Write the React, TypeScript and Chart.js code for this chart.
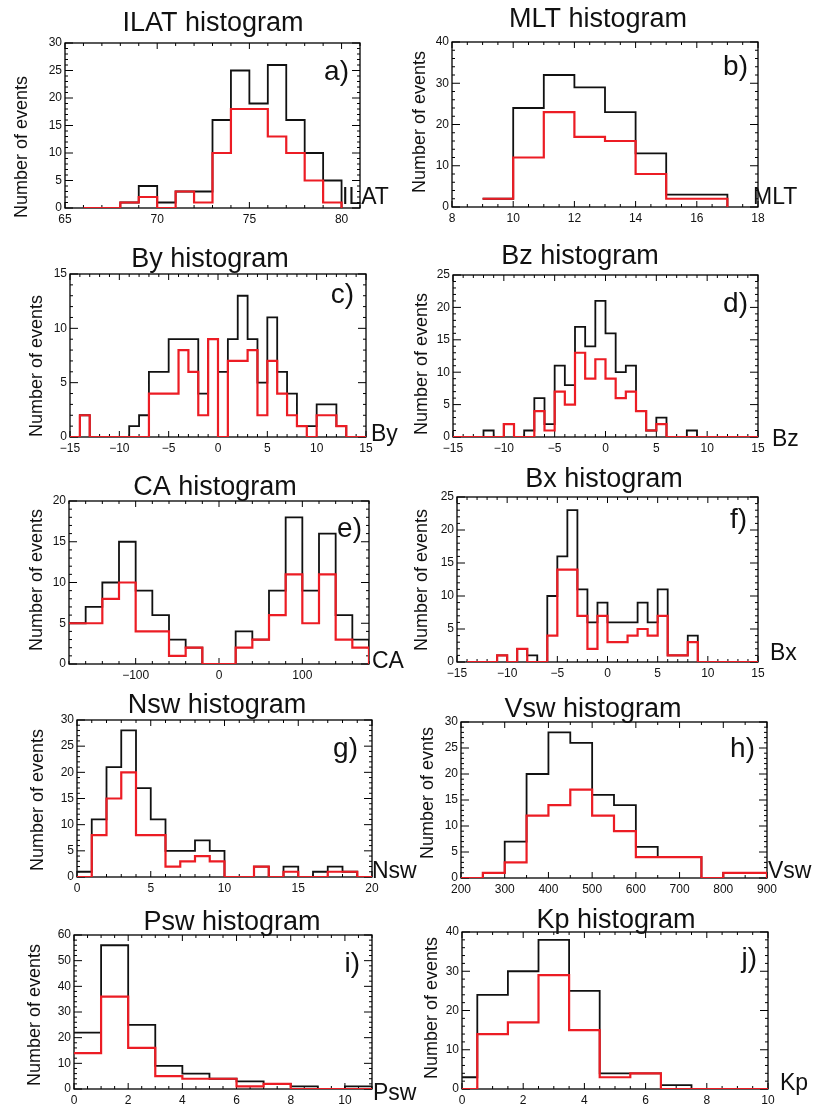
import React, { useEffect, useRef } from "react";
import { Chart, registerables } from "chart.js";

Chart.register(...registerables);

const FONT = "'Liberation Sans', Arial, Helvetica, sans-serif";
const BLACK = "#111111";
const RED = "#ec1c24";

// ---------------- data (bin edges, counts) ----------------
const ilatEdges = [66, 67, 68, 69, 70, 71, 72, 73, 74, 75, 76, 77, 78, 79, 80];
const ilatAll = [0, 0, 1, 4, 1, 3, 3, 16, 25, 19, 26, 16, 10, 5];
const ilatSel = [0, 0, 1, 2, 0, 3, 1, 10, 18, 18, 13, 10, 5, 1];

const mltEdges = [9, 10, 11, 12, 13, 14, 15, 16, 17];
const mltAll = [2, 24, 32, 29, 23, 13, 3, 3];
const mltSel = [2, 12, 23, 17, 16, 8, 2, 2];

const byEdges = [-15, -14, -13, -12, -11, -10, -9, -8, -7, -6, -5, -4, -3, -2, -1, 0, 1, 2, 3, 4, 5, 6, 7, 8, 9, 10, 11, 12, 13, 14, 15];
const byAll = [0, 2, 0, 0, 0, 0, 1, 2, 6, 6, 9, 9, 9, 4, 9, 6, 9, 13, 9, 5, 11, 6, 4, 1, 1, 3, 3, 1, 0, 0];
const bySel = [0, 2, 0, 0, 0, 0, 0, 0, 4, 4, 4, 8, 6, 2, 9, 0, 7, 7, 8, 2, 7, 4, 2, 1, 0, 2, 2, 1, 0, 0];

const bzEdges = [-15, -14, -13, -12, -11, -10, -9, -8, -7, -6, -5, -4, -3, -2, -1, 0, 1, 2, 3, 4, 5, 6, 7, 8, 9, 10, 11, 12, 13, 14, 15];
const bzAll = [0, 0, 0, 1, 0, 2, 0, 1, 6, 2, 11, 8, 17, 14, 21, 16, 10, 11, 4, 1, 3, 0, 0, 1, 0, 0, 0, 0, 0, 0];
const bzSel = [0, 0, 0, 0, 0, 2, 0, 0, 4, 1, 7, 5, 13, 9, 12, 9, 6, 7, 4, 1, 2, 0, 0, 0, 0, 0, 0, 0, 0, 0];

const caEdges = [-180, -160, -140, -120, -100, -80, -60, -40, -20, 0, 20, 40, 60, 80, 100, 120, 140, 160, 180];
const caAll = [5, 7, 10, 15, 9, 6, 3, 2, 0, 0, 4, 3, 9, 18, 9, 16, 6, 3];
const caSel = [5, 5, 8, 10, 4, 4, 1, 2, 0, 0, 2, 3, 6, 11, 5, 11, 3, 2];

const bxEdges = [-14, -13, -12, -11, -10, -9, -8, -7, -6, -5, -4, -3, -2, -1, 0, 1, 2, 3, 4, 5, 6, 7, 8, 9, 10, 11, 12, 13, 14, 15];
const bxAll = [0, 0, 0, 1, 0, 2, 1, 0, 10, 16, 23, 11, 6, 9, 6, 6, 6, 9, 6, 11, 1, 1, 4, 0, 0, 0, 0, 0, 0];
const bxSel = [0, 0, 0, 1, 0, 2, 0, 0, 4, 14, 14, 7, 2, 7, 3, 3, 4, 5, 4, 7, 1, 1, 3, 0, 0, 0, 0, 0, 0];

const nswEdges = [0, 1, 2, 3, 4, 5, 6, 7, 8, 9, 10, 11, 12, 13, 14, 15, 16, 17, 18, 19, 20];
const nswAll = [1, 11, 21, 28, 17, 11, 5, 5, 7, 5, 0, 0, 2, 0, 2, 0, 1, 2, 1, 0];
const nswSel = [0, 8, 15, 20, 8, 8, 2, 3, 4, 3, 0, 0, 2, 0, 1, 0, 0, 1, 1, 0];

const vswEdges = [200, 250, 300, 350, 400, 450, 500, 550, 600, 650, 700, 750, 800, 850, 900];
const vswAll = [0, 1, 7, 20, 28, 26, 16, 14, 6, 4, 4, 0, 1, 1];
const vswSel = [0, 1, 3, 12, 14, 17, 12, 9, 4, 4, 4, 0, 1, 1];

const pswEdges = [0, 1, 2, 3, 4, 5, 6, 7, 8, 9, 10, 11];
const pswAll = [22, 56, 25, 9, 6, 4, 3, 2, 1, 0, 1];
const pswSel = [14, 36, 16, 5, 4, 4, 1, 2, 0, 0, 0];

const kpEdges = [-0.5, 0.5, 1.5, 2.5, 3.5, 4.5, 5.5, 6.5, 7.5, 8.5, 9.5, 10.5];
const kpAll = [3, 24, 30, 38, 25, 4, 4, 1, 0, 0, 0];
const kpSel = [0, 14, 17, 29, 15, 3, 4, 0, 0, 0, 0];

// ---------------- layout ----------------
type Panel = {
  edges: number[];
  all: number[];
  sel: number[];
  xMin: number;
  xMax: number;
  xStep: number;
  xMinor: number;
  yMax: number;
  yStep: number;
  yMinor: number;
  title: string;
  letter: string;
  unit: string;
  yTitle: string;
  box: [number, number, number, number]; // canvas left, top, width, height (page px)
  frame: [number, number, number, number]; // plot L, T, R, B (page px)
  titleAt: [number, number]; // center x, baseline y
  letterAt: [number, number]; // right x, baseline y
  unitAt: [number, number]; // left x, baseline y
  yTitleAt: [number, number]; // baseline x, center y
};

const EV = "Number of events";
const COL1_W = 440;

const panels: Panel[] = [
  {
    edges: ilatEdges, all: ilatAll, sel: ilatSel,
    xMin: 65, xMax: 81, xStep: 5, xMinor: 5, yMax: 30, yStep: 5, yMinor: 5,
    title: "ILAT histogram", letter: "a)", unit: "ILAT", yTitle: EV,
    box: [0, 0, COL1_W, 232], frame: [65, 43, 360, 208],
    titleAt: [213, 31], letterAt: [349, 80], unitAt: [342, 204], yTitleAt: [27, 147],
  },
  {
    edges: mltEdges, all: mltAll, sel: mltSel,
    xMin: 8, xMax: 18, xStep: 2, xMinor: 4, yMax: 40, yStep: 10, yMinor: 5,
    title: "MLT histogram", letter: "b)", unit: "MLT", yTitle: EV,
    box: [407, 0, 407, 232], frame: [452, 42, 758, 207],
    titleAt: [598, 27], letterAt: [748, 75], unitAt: [753, 204], yTitleAt: [425, 122],
  },
  {
    edges: byEdges, all: byAll, sel: bySel,
    xMin: -15, xMax: 15, xStep: 5, xMinor: 5, yMax: 15, yStep: 5, yMinor: 5,
    title: "By histogram", letter: "c)", unit: "By", yTitle: EV,
    box: [0, 232, COL1_W, 226], frame: [70, 274, 366, 437],
    titleAt: [210, 267], letterAt: [354, 303], unitAt: [371, 441], yTitleAt: [42, 366],
  },
  {
    edges: bzEdges, all: bzAll, sel: bzSel,
    xMin: -15, xMax: 15, xStep: 5, xMinor: 5, yMax: 25, yStep: 5, yMinor: 5,
    title: "Bz histogram", letter: "d)", unit: "Bz", yTitle: EV,
    box: [407, 232, 407, 226], frame: [453, 275, 758, 437],
    titleAt: [580, 264], letterAt: [748, 312], unitAt: [772, 446], yTitleAt: [427, 364],
  },
  {
    edges: caEdges, all: caAll, sel: caSel,
    xMin: -180, xMax: 180, xStep: 100, xMinor: 5, yMax: 20, yStep: 5, yMinor: 5,
    title: "CA histogram", letter: "e)", unit: "CA", yTitle: EV,
    box: [0, 458, COL1_W, 230], frame: [69, 501, 369, 664],
    titleAt: [215, 495], letterAt: [362, 537], unitAt: [372, 668], yTitleAt: [42, 580],
  },
  {
    edges: bxEdges, all: bxAll, sel: bxSel,
    xMin: -15, xMax: 15, xStep: 5, xMinor: 5, yMax: 25, yStep: 5, yMinor: 5,
    title: "Bx histogram", letter: "f)", unit: "Bx", yTitle: EV,
    box: [407, 458, 407, 230], frame: [457, 497, 758, 662],
    titleAt: [604, 487], letterAt: [747, 528], unitAt: [770, 660], yTitleAt: [427, 580],
  },
  {
    edges: nswEdges, all: nswAll, sel: nswSel,
    xMin: 0, xMax: 20, xStep: 5, xMinor: 5, yMax: 30, yStep: 5, yMinor: 5,
    title: "Nsw histogram", letter: "g)", unit: "Nsw", yTitle: EV,
    box: [0, 688, COL1_W, 220], frame: [77, 720, 372, 877],
    titleAt: [217, 713], letterAt: [358, 757], unitAt: [372, 878], yTitleAt: [43, 800],
  },
  {
    edges: vswEdges, all: vswAll, sel: vswSel,
    xMin: 200, xMax: 900, xStep: 100, xMinor: 2, yMax: 30, yStep: 5, yMinor: 5,
    title: "Vsw histogram", letter: "h)", unit: "Vsw", yTitle: "Number of evnts",
    box: [407, 688, 407, 220], frame: [461, 722, 767, 878],
    titleAt: [593, 717], letterAt: [755, 757], unitAt: [768, 878], yTitleAt: [433, 793],
  },
  {
    edges: pswEdges, all: pswAll, sel: pswSel,
    xMin: 0, xMax: 11, xStep: 2, xMinor: 4, yMax: 60, yStep: 10, yMinor: 5,
    title: "Psw histogram", letter: "i)", unit: "Psw", yTitle: EV,
    box: [0, 908, COL1_W, 205], frame: [74, 935, 372, 1089],
    titleAt: [232, 930], letterAt: [360, 972], unitAt: [373, 1100], yTitleAt: [40, 1015],
  },
  {
    edges: kpEdges, all: kpAll, sel: kpSel,
    xMin: 0, xMax: 10, xStep: 2, xMinor: 4, yMax: 40, yStep: 10, yMinor: 5,
    title: "Kp histogram", letter: "j)", unit: "Kp", yTitle: EV,
    box: [407, 908, 407, 205], frame: [462, 932, 768, 1089],
    titleAt: [616, 928], letterAt: [757, 967], unitAt: [780, 1090], yTitleAt: [437, 1008],
  },
];

const Y_AXIS_W = 30;
const X_AXIS_H = 20;
const MAJOR = 6;
const MINOR = 3;

// histogram outline: value i spans [edges[i], edges[i+1]], then drop to 0 at the last edge
function histPoints(edges: number[], vals: number[]) {
  const pts: { x: number; y: number }[] = [];
  for (let i = 0; i < vals.length; i++) pts.push({ x: edges[i], y: vals[i] });
  pts.push({ x: edges[vals.length], y: vals[vals.length - 1] });
  pts.push({ x: edges[vals.length], y: 0 });
  return pts;
}

const fmt = (v: number | string) => String(v).replace("-", "\u2212");

function makeDecor(p: Panel) {
  const ox = p.box[0];
  const oy = p.box[1];
  return {
    id: "decor",
    beforeDatasetsDraw(chart: any) {
      const ctx: CanvasRenderingContext2D = chart.ctx;
      const { left, right, top, bottom } = chart.chartArea;
      const xs = chart.scales.x;
      const ys = chart.scales.y;
      ctx.save();
      ctx.strokeStyle = "#000";
      ctx.lineWidth = 1.3;
      ctx.strokeRect(left, top, right - left, bottom - top);
      ctx.beginPath();
      ctx.lineWidth = 1;
      const xm = p.xStep / p.xMinor;
      for (let k = Math.ceil(p.xMin / xm); k * xm <= p.xMax + 1e-9; k++) {
        const v = k * xm;
        const isMajor = xs.ticks.some((t: any) => Math.abs(t.value - v) < 1e-6);
        const len = isMajor ? MAJOR : MINOR;
        const px = xs.getPixelForValue(v);
        ctx.moveTo(px, bottom);
        ctx.lineTo(px, bottom - len);
        ctx.moveTo(px, top);
        ctx.lineTo(px, top + len);
      }
      const ym = p.yStep / p.yMinor;
      for (let k = 0; k * ym <= p.yMax + 1e-9; k++) {
        const v = k * ym;
        const isMajor = ys.ticks.some((t: any) => Math.abs(t.value - v) < 1e-6);
        const len = isMajor ? MAJOR + 2 : MINOR;
        const py = ys.getPixelForValue(v);
        ctx.moveTo(left, py);
        ctx.lineTo(left + len, py);
        ctx.moveTo(right, py);
        ctx.lineTo(right - len, py);
      }
      ctx.stroke();
      ctx.restore();
    },
    afterDraw(chart: any) {
      const ctx: CanvasRenderingContext2D = chart.ctx;
      ctx.save();
      ctx.fillStyle = "#111";
      ctx.textBaseline = "alphabetic";
      ctx.font = `27px ${FONT}`;
      ctx.textAlign = "center";
      ctx.fillText(p.title, p.titleAt[0] - ox, p.titleAt[1] - oy);
      ctx.font = `28px ${FONT}`;
      ctx.textAlign = "right";
      ctx.fillText(p.letter, p.letterAt[0] - ox, p.letterAt[1] - oy);
      ctx.font = `23px ${FONT}`;
      ctx.textAlign = "left";
      ctx.fillText(p.unit, p.unitAt[0] - ox, p.unitAt[1] - oy);
      ctx.font = `18px ${FONT}`;
      ctx.textAlign = "center";
      ctx.translate(p.yTitleAt[0] - ox, p.yTitleAt[1] - oy);
      ctx.rotate(-Math.PI / 2);
      ctx.fillText(p.yTitle, 0, 0);
      ctx.restore();
    },
  };
}

function HistPanel({ p }: { p: Panel }) {
  const ref = useRef<HTMLCanvasElement | null>(null);
  useEffect(() => {
    if (!ref.current) return;
    const [bl, bt, bw, bh] = p.box;
    const [fl, ft, fr, fb] = p.frame;
    const tickFont = { family: FONT, size: 12 };
    const chart = new Chart(ref.current, {
      type: "line",
      data: {
        datasets: [
          {
            label: "all",
            data: histPoints(p.edges, p.all),
            borderColor: BLACK,
            borderWidth: 1.8,
            stepped: "before",
            pointRadius: 0,
            fill: false,
            order: 2,
          },
          {
            label: "selected",
            data: histPoints(p.edges, p.sel),
            borderColor: RED,
            borderWidth: 2.2,
            stepped: "before",
            pointRadius: 0,
            fill: false,
            order: 1,
          },
        ],
      },
      options: {
        animation: false,
        responsive: true,
        maintainAspectRatio: false,
        parsing: false as any,
        layout: {
          padding: {
            left: fl - bl - Y_AXIS_W,
            top: ft - bt,
            right: bl + bw - fr,
            bottom: bt + bh - fb - X_AXIS_H,
          },
        },
        plugins: {
          legend: { display: false },
          tooltip: { enabled: false },
          title: { display: false },
        },
        scales: {
          x: {
            type: "linear",
            min: p.xMin,
            max: p.xMax,
            grid: { display: false, drawTicks: false },
            border: { display: false },
            ticks: {
              stepSize: p.xStep,
              includeBounds: false,
              autoSkip: false,
              maxRotation: 0,
              padding: 4,
              color: "#111",
              font: tickFont,
              callback: (v: any) => fmt(v),
            },
            afterFit: (s: any) => {
              s.height = X_AXIS_H;
            },
          },
          y: {
            type: "linear",
            min: 0,
            max: p.yMax,
            grid: { display: false, drawTicks: false },
            border: { display: false },
            ticks: {
              stepSize: p.yStep,
              includeBounds: false,
              autoSkip: false,
              padding: 3,
              color: "#111",
              font: tickFont,
              callback: (v: any) => fmt(v),
            },
            afterFit: (s: any) => {
              s.width = Y_AXIS_W;
            },
          },
        },
      },
      plugins: [makeDecor(p)],
    } as any);
    return () => chart.destroy();
  }, [p]);
  const [bl, bt, bw, bh] = p.box;
  return (
    <div style={{ position: "absolute", left: bl, top: bt, width: bw, height: bh }}>
      <canvas ref={ref} />
    </div>
  );
}

export default function App() {
  return (
    <div
      style={{
        position: "absolute",
        left: 0,
        top: 0,
        width: 814,
        height: 1113,
        background: "#fff",
        overflow: "hidden",
      }}
    >
      {panels.map((p, i) => (
        <HistPanel key={i} p={p} />
      ))}
    </div>
  );
}
